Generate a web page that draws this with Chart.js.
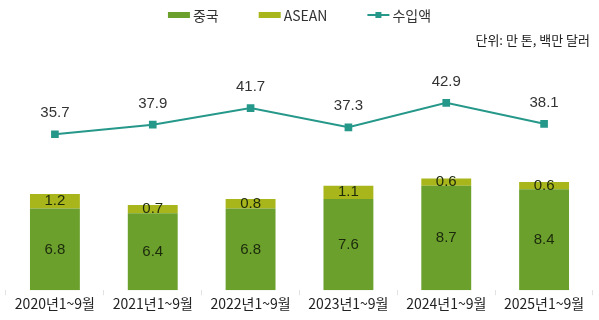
<!DOCTYPE html>
<html>
<head>
<meta charset="utf-8">
<script src="https://cdn.jsdelivr.net/npm/chart.js@4/dist/chart.umd.min.js"></script>
<style>
  html, body { margin: 0; padding: 0; background: #ffffff; }
  #wrap { width: 599px; height: 320px; }
</style>
</head>
<body>
<div id="wrap"><canvas id="c" width="599" height="320"></canvas></div>
<script>
const categories = ['2020년1~9월', '2021년1~9월', '2022년1~9월', '2023년1~9월', '2024년1~9월', '2025년1~9월'];
const chinaVolume = [6.8, 6.4, 6.8, 7.6, 8.7, 8.4];
const aseanVolume = [1.2, 0.7, 0.8, 1.1, 0.6, 0.6];
const importValue = [35.7, 37.9, 41.7, 37.3, 42.9, 38.1];
const seriesNames = ['중국', 'ASEAN', '수입액'];
const unitNote = '단위: 만 톤, 백만 달러';

const GREEN = '#6ba02d';
const YELLOW = '#a9b61b';
const TEAL = '#25988a';
const FONT = "'Noto Sans CJK KR', 'Noto Sans', sans-serif";
const NUM_FONT = "'Liberation Sans', Arial, sans-serif";

// Value labels for bar segments and line points
const valueLabels = {
  id: 'valueLabels',
  afterDatasetsDraw(chart) {
    const ctx = chart.ctx;
    ctx.save();
    ctx.textAlign = 'center';
    ctx.textBaseline = 'middle';
    chart.data.datasets.forEach((ds, di) => {
      const meta = chart.getDatasetMeta(di);
      meta.data.forEach((el, i) => {
        const v = ds.data[i];
        ctx.font = '15px ' + NUM_FONT;
        if (ds.type === 'line') {
          ctx.fillStyle = '#333333';
          ctx.fillText(v.toFixed(1), el.x, el.y - 21);
        } else {
          ctx.fillStyle = '#1c2a0c';
          ctx.fillText(v.toFixed(1), el.x, (el.y + el.base) / 2);
        }
      });
    });
    ctx.restore();
  }
};

// Legend row across the top and the unit note beneath it
const headerLegend = {
  id: 'headerLegend',
  afterDraw(chart) {
    const ctx = chart.ctx;
    const ds = chart.data.datasets;
    const items = [
      { name: ds[1].label, kind: 'box', color: ds[1].backgroundColor },
      { name: ds[2].label, kind: 'box', color: ds[2].backgroundColor },
      { name: ds[0].label, kind: 'line', color: ds[0].borderColor }
    ];
    const swatchW = 22, gap = 3, spacing = 40, cy = 15;
    ctx.save();
    ctx.font = '14px ' + FONT;
    ctx.textBaseline = 'middle';
    ctx.textAlign = 'left';
    const widths = items.map(it => swatchW + gap + ctx.measureText(it.name).width);
    const total = widths.reduce((a, b) => a + b, 0) + spacing * (items.length - 1);
    let x = (chart.width - total) / 2;
    items.forEach((it, i) => {
      ctx.fillStyle = it.color;
      if (it.kind === 'box') {
        ctx.fillRect(x, cy - 3, swatchW, 6);
      } else {
        ctx.strokeStyle = it.color;
        ctx.lineWidth = 2;
        ctx.beginPath();
        ctx.moveTo(x, cy);
        ctx.lineTo(x + swatchW, cy);
        ctx.stroke();
        ctx.fillRect(x + swatchW / 2 - 3, cy - 3, 6, 6);
      }
      ctx.fillStyle = '#333333';
      ctx.fillText(it.name, x + swatchW + gap, cy + 1);
      x += widths[i] + spacing;
    });
    ctx.font = '13px ' + FONT;
    ctx.textAlign = 'right';
    ctx.fillStyle = '#222222';
    ctx.fillText(unitNote, 590, 40);
    ctx.restore();
  }
};

new Chart(document.getElementById('c'), {
  data: {
    labels: categories,
    datasets: [
      {
        type: 'line',
        label: seriesNames[2],
        data: importValue,
        yAxisID: 'yLine',
        borderColor: TEAL,
        backgroundColor: TEAL,
        borderWidth: 2,
        pointStyle: 'rect',
        pointRadius: 4,
        pointBackgroundColor: TEAL,
        pointBorderColor: TEAL,
        tension: 0,
        order: 0
      },
      {
        type: 'bar',
        label: seriesNames[0],
        data: chinaVolume,
        yAxisID: 'y',
        backgroundColor: GREEN,
        stack: 'vol',
        barPercentage: 0.51,
        categoryPercentage: 1,
        order: 1
      },
      {
        type: 'bar',
        label: seriesNames[1],
        data: aseanVolume,
        yAxisID: 'y',
        backgroundColor: YELLOW,
        stack: 'vol',
        barPercentage: 0.51,
        categoryPercentage: 1,
        order: 1
      }
    ]
  },
  options: {
    responsive: false,
    animation: false,
    layout: { padding: { left: 4, right: 4, top: 50, bottom: 8 } },
    scales: {
      x: {
        stacked: true,
        offset: true,
        grid: { display: true, drawOnChartArea: false, offset: true, tickLength: 5, color: '#e2e2e2' },
        border: { display: false },
        ticks: { color: '#222222', font: { family: FONT, size: 14 }, padding: 0, maxRotation: 0, autoSkip: false }
      },
      y: { stacked: true, display: false, min: 0, max: 20 },
      yLine: { display: false, min: 0, max: 55, position: 'right' }
    },
    plugins: {
      legend: { display: false },
      tooltip: { enabled: false }
    }
  },
  plugins: [valueLabels, headerLegend]
});
</script>
</body>
</html>
